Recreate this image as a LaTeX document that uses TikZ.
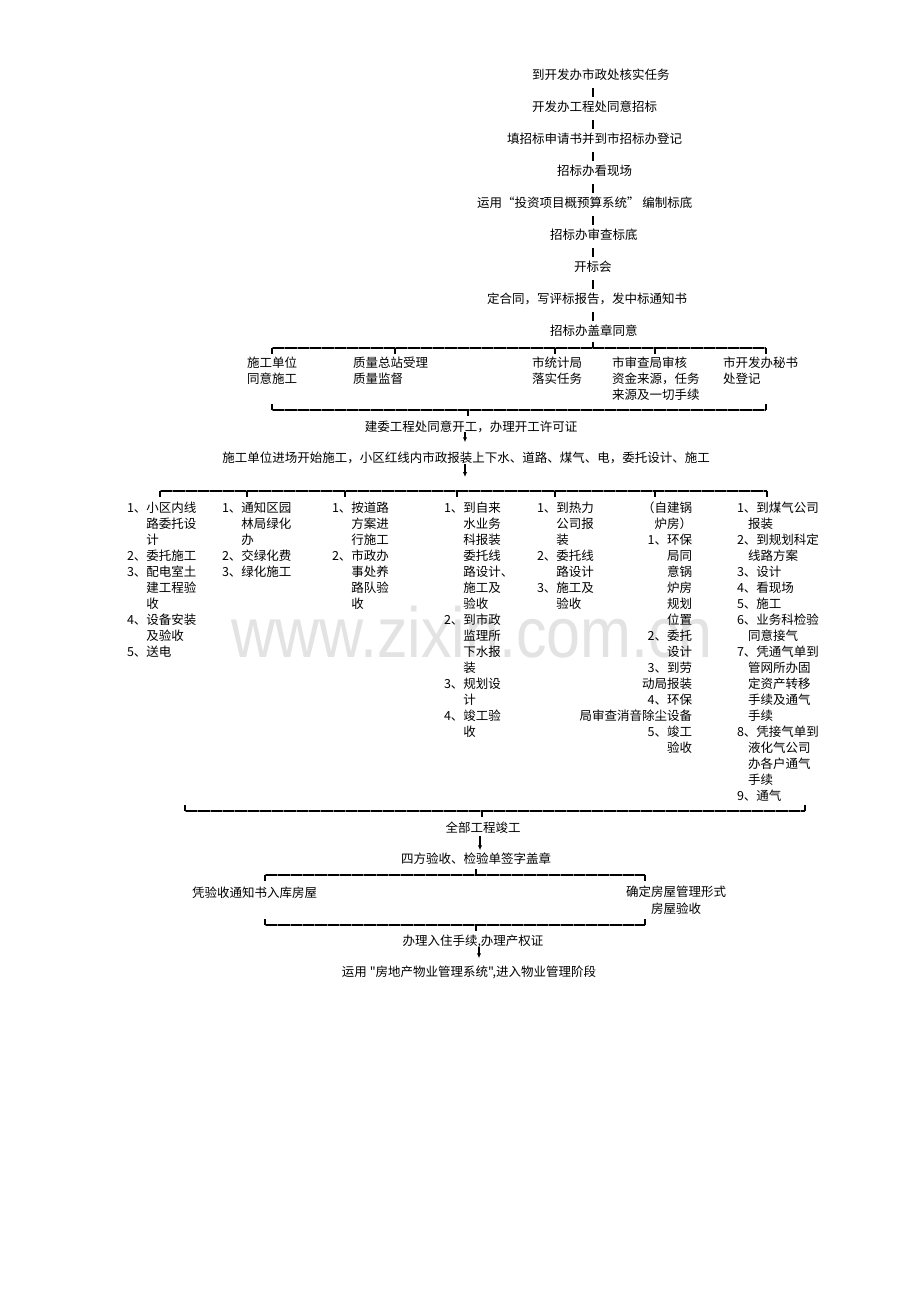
\documentclass[tikz,border=0pt]{standalone}
\usepackage{fontspec}
\setmainfont{Noto Sans CJK SC}[Ligatures=TeXOff]
\newfontfamily\wmfont{Liberation Sans}
\usetikzlibrary{arrows.meta}

\newcommand\myind{\hphantom{1、}}
\newcommand\myhs{\hspace*{11pt}}
% one column of single-line nodes: name, anchor, x, y of first line, list
\newcommand\mycol[5]{%
  \foreach \itm [count=\i] in {#5}
    \node[txt, anchor=#2] (#1-\i) at (#3, {#4+16*(\i-1)}) {\itm};%
}

\tikzset{
  txt/.style={inner sep=0pt, outer sep=0pt, font=\fontsize{12.5}{16}\selectfont,
              text height=11pt, text depth=1.5pt},
  wm/.style={inner sep=0pt, anchor=base west, text=black!11,
              font=\wmfont\fontsize{71}{71}\selectfont, xscale=0.86, transform shape},
  conn/.style={line width=1.2pt},
  arr/.style={line width=1.1pt, -{Latex[length=5pt,width=4.5pt]}},
  hline/.style={line width=1.3pt,
                postaction={draw, black!50, line width=2.8pt, dash pattern=on 0.7pt off 11.6pt}},
  tick/.style={line width=1.3pt},
}

\begin{document}
\begin{tikzpicture}[x=1pt,y=-1pt]
\useasboundingbox (0,0) rectangle (920,1301);
\fill[white] (0,0) rectangle (920,1301);

% watermark
\begin{scope}[shift={(231,657)}]
  \node[wm] (wm) at (0,0) {www.zixin.com.cn};
\end{scope}

% ---------- top chain ----------
\node[txt,anchor=west] (t1) at (532,75)  {到开发办市政处核实任务};
\node[txt,anchor=west] (t2) at (532,107) {开发办工程处同意招标};
\node[txt,anchor=west] (t3) at (507,139) {填招标申请书并到市招标办登记};
\node[txt,anchor=west] (t4) at (557,171) {招标办看现场};
\node[txt,anchor=west] (t5) at (477,203) {运用“投资项目概预算系统” 编制标底};
\node[txt,anchor=west] (t6) at (550,235) {招标办审查标底};
\node[txt,anchor=west] (t7) at (574,267) {开标会};
\node[txt,anchor=west] (t8) at (487,299) {定合同，写评标报告，发中标通知书};
\node[txt,anchor=west] (t9) at (550,331) {招标办盖章同意};

\coordinate (ax) at (593,0);
\foreach \a/\b in {t1/t2,t2/t3,t3/t4,t4/t5,t5/t6,t6/t7,t7/t8,t8/t9}
  \draw[conn, shorten <=7pt, shorten >=4pt] (\a.south -| ax) -- (\b.north -| ax);

% ---------- first bracket ----------
\coordinate (b1L) at (272,348);
\coordinate (b1R) at (766,348);
\coordinate (b1c) at (593,348);
\draw[hline] (b1L) -- (b1R);
\draw[conn, shorten <=4.5pt] (t9.south -| b1c) -- (b1c);
\foreach \xx in {272,395,555,655,766}
  \draw[tick] (\xx,348) -- ++(0,6);

\mycol{ra}{west}{247}{363}{施工单位,同意施工}
\mycol{rb}{west}{353}{363}{质量总站受理,质量监督}
\mycol{rc}{west}{532}{363}{市统计局,落实任务}
\mycol{rd}{west}{612}{363}{市审查局审核,资金来源，任务,来源及一切手续}
\mycol{re}{west}{723}{363}{市开发办秘书,处登记}

\coordinate (b2L) at (272,410);
\coordinate (b2R) at (766,410);
\coordinate (b2c) at (468,410);
\draw[hline] (b2L) -- (b2R);
\draw[tick] (b2L) -- ++(0,-6);
\draw[tick] (b2R) -- ++(0,-6);

\node[txt] (u1) at (471,427) {建委工程处同意开工，办理开工许可证};
\node[txt] (u2) at (466,458) {施工单位进场开始施工，小区红线内市政报装上下水、道路、煤气、电，委托设计、施工};
\draw[conn, shorten >=4.5pt] (b2c) -- (u1.north -| b2c);

\coordinate (ax2) at (465,0);
\coordinate (a2e) at (465,477);
\draw[arr, shorten <=-1pt, shorten >=9.5pt] (u1.south -| ax2) -- (u2.north -| ax2);
\draw[arr] (u2.south -| ax2) -- (a2e);

% ---------- second bracket ----------
\coordinate (c0L) at (160,491);
\coordinate (c0R) at (767,491);
\draw[hline] (c0L) -- (c0R);
\foreach \xx in {160,247,345,457,555,655,767}
  \draw[tick] (\xx,491) -- ++(0,6);

\mycol{ca}{west}{127}{508}{1、小区内线,\myind 路委托设,\myind 计,2、委托施工,3、配电室土,\myind 建工程验,\myind 收,4、设备安装,\myind 及验收,5、送电}
\mycol{cb}{west}{222}{508}{1、通知区园,\myind 林局绿化,\myind 办,2、交绿化费,3、绿化施工}
\mycol{cc}{west}{332}{508}{1、按道路,\myind 方案进,\myind 行施工,2、市政办,\myind 事处养,\myind 路队验,\myind 收}
\mycol{cd}{west}{444}{508}{1、到自来,\myind 水业务,\myind 科报装,\myind 委托线,\myind 路设计、,\myind 施工及,\myind 验收,2、到市政,\myind 监理所,\myind 下水报,\myind 装,3、规划设,\myind 计,4、竣工验,\myind 收}
\mycol{ce}{west}{537}{508}{1、到热力,\myind 公司报,\myind 装,2、委托线,\myind 路设计,3、施工及,\myind 验收}
\mycol{cf}{east}{692}{508}{（自建锅,炉房）,1、环保,局同,意锅,炉房,规划,位置,2、委托,设计,3、到劳,动局报装,4、环保,局审查消音除尘设备,5、竣工,验收}
\mycol{cg}{west}{737}{508}{1、到煤气公司,\myhs 报装,2、到规划科定,\myhs 线路方案,3、设计,4、看现场,5、施工,6、业务科检验,\myhs 同意接气,7、凭通气单到,\myhs 管网所办固,\myhs 定资产转移,\myhs 手续及通气,\myhs 手续,8、凭接气单到,\myhs 液化气公司,\myhs 办各户通气,\myhs 手续,9、通气}

% ---------- third bracket ----------
\coordinate (dL) at (185,811);
\coordinate (dR) at (805,811);
\coordinate (dc) at (482,811);
\draw[hline] (dL) -- (dR);
\draw[tick] (dL) -- ++(0,-6);
\draw[tick] (dR) -- ++(0,-6);

\node[txt] (v1) at (483,828) {全部工程竣工};
\node[txt] (v2) at (476,859) {四方验收、检验单签字盖章};
\draw[conn, shorten >=4.5pt] (dc) -- (v1.north -| dc);
\coordinate (ax3) at (480,0);
\draw[arr, shorten <=2pt, shorten >=2.5pt] (v1.south -| ax3) -- (v2.north -| ax3);

% ---------- fourth bracket ----------
\coordinate (e1L) at (265,875);
\coordinate (e1R) at (645,875);
\coordinate (e1c) at (476,875);
\draw[hline] (e1L) -- (e1R);
\draw[conn, shorten <=3.5pt] (v2.south -| e1c) -- (e1c);
\draw[tick] (e1L) -- ++(0,6);
\draw[tick] (e1R) -- ++(0,6);

\node[txt,anchor=west] (w1) at (192,893) {凭验收通知书入库房屋};
\node[txt] (w2) at (676,892) {确定房屋管理形式};
\node[txt] (w3) at (676,909) {房屋验收};

\coordinate (e2L) at (265,925);
\coordinate (e2R) at (645,925);
\coordinate (e2c) at (476,925);
\draw[hline] (e2L) -- (e2R);
\draw[tick] (e2L) -- ++(0,-6);
\draw[tick] (e2R) -- ++(0,-6);

\node[txt] (x1) at (473,941) {办理入住手续,办理产权证};
\node[txt] (x2) at (469,972) {运用 "房地产物业管理系统",进入物业管理阶段};
\draw[conn, shorten >=3.5pt] (e2c) -- (x1.north -| e2c);
\coordinate (ax4) at (479,0);
\draw[arr, shorten <=0pt, shorten >=7.5pt] (x1.south -| ax4) -- (x2.north -| ax4);

\end{tikzpicture}
\end{document}
